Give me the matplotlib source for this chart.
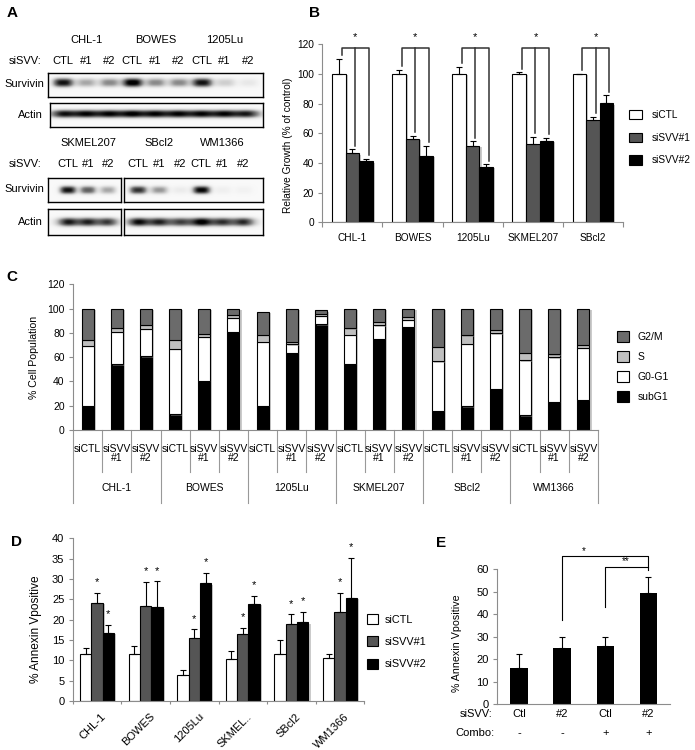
import numpy as np
import matplotlib
matplotlib.use('Agg')
import matplotlib.pyplot as plt
from matplotlib.patches import Patch
import matplotlib.patheffects as pe
from matplotlib.transforms import ScaledTranslation

plt.rcParams['font.family'] = ['Liberation Sans', 'DejaVu Sans']
plt.rcParams['axes.linewidth'] = 0.8

# ---------------- Data ----------------
# A: western blots (relative band intensity 0-1, one value per lane)
a_lanes = ['CTL', '#1', '#2']
a_lines_top = ['CHL-1', 'BOWES', '1205Lu']
a_lines_bot = ['SKMEL207', 'SBcl2', 'WM1366']
surv_top = [0.9, 0.4, 0.5, 1.0, 0.5, 0.5, 0.9, 0.25, 0.12]
actin_top = [0.85, 0.85, 0.85, 0.88, 0.85, 0.85, 0.85, 0.85, 0.82]
surv_bot_a = [0.9, 0.65, 0.4]
actin_bot_a = [0.85, 0.8, 0.75]
surv_bot_b = [0.8, 0.45, 0.1, 0.95, 0.08, 0.06]
actin_bot_b = [0.9, 0.8, 0.7, 0.95, 0.75, 0.8]

# B: relative growth
b_groups = ['CHL-1', 'BOWES', '1205Lu', 'SKMEL207', 'SBcl2']
b_ctl = [100, 100, 100, 100, 100]
b_ctl_err = [10, 3, 5, 1, 0]
b_s1 = [46.4, 56.3, 51.6, 52.5, 69]
b_s1_err = [2.7, 1.8, 3, 5, 2.2]
b_s2 = [41.2, 45, 37.4, 55, 80.2]
b_s2_err = [1.8, 6.3, 1.6, 1.8, 5.4]
b_series = ['siCTL', 'siSVV#1', 'siSVV#2']

# C: cell cycle (% population)
c_groups = ['CHL-1', 'BOWES', '1205Lu', 'SKMEL207', 'SBcl2', 'WM1366']
c_samples = ['siCTL', 'siSVV\n#1', 'siSVV\n#2']
c_subg1 = [20, 54, 60.8, 12.9, 40.5, 80.8, 20, 63.8, 87.1, 54.5, 75.3, 84.9, 15.6, 19.5, 33.7, 12, 23.3, 24.9]
c_g0g1 = [49.3, 26.8, 22.5, 54.2, 36.2, 11.8, 52.6, 6.9, 6.9, 24.1, 11, 6.1, 41.1, 51.7, 45.8, 45.3, 36.7, 42.8]
c_s = [4.9, 3.6, 3.5, 7.1, 2.5, 2.4, 6, 1.9, 1.9, 5, 3, 2.4, 11.8, 6.9, 3.2, 6.3, 2.2, 2.7]
c_g2m = [25.8, 15.6, 13.2, 25.8, 20.8, 5, 18.7, 27.4, 2.6, 16.4, 10.7, 6.6, 31.5, 21.9, 17.3, 36.4, 37.8, 29.6]
c_phases = ['G2/M', 'S', 'G0-G1', 'subG1']

# D: annexin V
d_groups = ['CHL-1', 'BOWES', '1205Lu', 'SKMEL..', 'SBcl2', 'WM1366']
d_ctl = [11.5, 11.5, 6.3, 10.3, 11.5, 10.5]
d_ctl_err = [1.5, 1.9, 1.4, 1.9, 3.4, 1.0]
d_s1 = [24.2, 23.4, 15.6, 16.5, 18.9, 21.8]
d_s1_err = [2.4, 5.8, 2.0, 1.5, 2.4, 4.8]
d_s2 = [16.8, 23.0, 28.9, 23.9, 19.3, 25.4]
d_s2_err = [1.9, 6.4, 2.5, 1.9, 2.7, 9.7]

# E: combination
e_sisvv = ['Ctl', '#2', 'Ctl', '#2']
e_combo = ['-', '-', '+', '+']
e_vals = [16.2, 25.0, 25.8, 49.6]
e_err = [5.9, 4.7, 4.2, 7.1]

# ---------------- Figure ----------------
W, H = 695, 750
fig = plt.figure(figsize=(W / 100, H / 100), dpi=100)
GREY = '#8c8c8c'
COL_S1 = '#555555'
shadow = [pe.SimplePatchShadow(offset=(1.6, -1.0), shadow_rgbFace='0.55', alpha=0.45), pe.Normal()]


def axpx(x0, y0, x1, y1):
    return fig.add_axes([x0 / W, 1 - y1 / H, (x1 - x0) / W, (y1 - y0) / H])


def ftext(x, y, s, **kw):
    fig.text(x / W, 1 - y / H, s, **kw)


def style_axes(ax, fs):
    for s in ['top', 'right']:
        ax.spines[s].set_visible(False)
    for s in ['left', 'bottom']:
        ax.spines[s].set_color(GREY)
    ax.tick_params(axis='y', direction='out', length=3, width=0.8, color=GREY, labelsize=fs, pad=3)


# ---------- Panel A ----------
def draw_blot(box, intens, xlim, sx, sy, p, yc=0.0):
    ax = axpx(*box)
    xs = np.linspace(xlim[0], xlim[1], 500)
    ys = np.linspace(0.5, -0.5, 80)
    X, Y = np.meshgrid(xs, ys)
    img = np.full_like(X, 0.05)
    for i, v in enumerate(intens):
        img += v * np.exp(-np.abs((X - i) / sx) ** p) * np.exp(-np.abs((Y - yc) / sy) ** 2.5)
    ax.imshow(np.clip(img, 0, 1), cmap='Greys', vmin=0, vmax=1, aspect='auto',
              extent=(xlim[0], xlim[1], -0.5, 0.5), interpolation='bilinear')
    ax.set_xlim(xlim)
    ax.set_ylim(-0.5, 0.5)
    ax.set_xticks([])
    ax.set_yticks([])
    for s in ax.spines.values():
        s.set_linewidth(1.0)
    return ax

ftext(12, 13, 'A', fontsize=11, fontweight='bold', ha='center', va='center')
xl_top = (-0.65, 8.66)
ax_s1 = draw_blot((48, 73, 263, 97), surv_top, xl_top, 0.45, 0.19, 3, 0.1)
draw_blot((50, 103, 263, 127), actin_top, (-0.56, 8.66), 0.6, 0.17, 2, 0.05)
for i in range(9):
    ax_s1.text(i, 1.5, a_lanes[i % 3], transform=ax_s1.get_xaxis_transform(), ha='center', va='center', fontsize=8)
for g, name in enumerate(a_lines_top):
    ax_s1.text(3 * g + 1, 2.375, name, transform=ax_s1.get_xaxis_transform(), ha='center', va='center', fontsize=8)
ftext(41, 61, 'siSVV:', ha='right', va='center', fontsize=8)
ftext(44, 84, 'Survivin', ha='right', va='center', fontsize=8)
ftext(43, 115, 'Actin', ha='right', va='center', fontsize=8)

xl_ba = (-1.0, 2.65)
xl_bb = (-0.667, 5.95)
ax_s2a = draw_blot((48, 178, 121, 202), surv_bot_a, xl_ba, 0.42, 0.17, 3)
ax_s2b = draw_blot((124, 178, 263, 202), surv_bot_b, xl_bb, 0.42, 0.17, 3)
draw_blot((48, 209, 121, 235), actin_bot_a, xl_ba, 0.55, 0.17, 2)
draw_blot((124, 209, 263, 235), actin_bot_b, xl_bb, 0.55, 0.17, 2)
for i in range(3):
    ax_s2a.text(i, 1.583, a_lanes[i], transform=ax_s2a.get_xaxis_transform(), ha='center', va='center', fontsize=8)
for i in range(6):
    ax_s2b.text(i, 1.583, a_lanes[i % 3], transform=ax_s2b.get_xaxis_transform(), ha='center', va='center', fontsize=8)
ax_s2a.text(1, 2.458, a_lines_bot[0], transform=ax_s2a.get_xaxis_transform(), ha='center', va='center', fontsize=8)
ax_s2b.text(1, 2.458, a_lines_bot[1], transform=ax_s2b.get_xaxis_transform(), ha='center', va='center', fontsize=8)
ax_s2b.text(4, 2.458, a_lines_bot[2], transform=ax_s2b.get_xaxis_transform(), ha='center', va='center', fontsize=8)
ftext(41, 164, 'siSVV:', ha='right', va='center', fontsize=8)
ftext(44, 189, 'Survivin', ha='right', va='center', fontsize=8)
ftext(43, 222, 'Actin', ha='right', va='center', fontsize=8)

# ---------- Panel B ----------
ftext(314, 13, 'B', fontsize=11, fontweight='bold', ha='center', va='center')
axB = axpx(322.3, 44.3, 623, 222.3)
style_axes(axB, 7.3)
xb = np.arange(len(b_groups))
bw = 0.225
colors = ['white', COL_S1, 'black']
vals = [b_ctl, b_s1, b_s2]
errs = [b_ctl_err, b_s1_err, b_s2_err]
for k in range(3):
    xk = xb + (k - 1) * bw
    bars = axB.bar(xk, vals[k], width=bw, color=colors[k], edgecolor='black', linewidth=0.8, zorder=2)
    for b in bars:
        b.set_path_effects(shadow)
    axB.errorbar(xk, vals[k], yerr=[np.zeros(len(xk)), errs[k]], fmt='none', ecolor='black',
                 elinewidth=0.8, capsize=2.5, capthick=0.8, zorder=3)
bracket_y = 117.5
for i in range(len(b_groups)):
    lx = [xb[i] + (k - 1) * bw + 0.2 * bw for k in range(3)]
    bot = [vals[k][i] + errs[k][i] + 2.5 for k in range(3)]
    axB.plot([lx[0], lx[0], lx[2], lx[2]], [bot[0], bracket_y, bracket_y, bot[2]], color='#333333', lw=1.1, zorder=4)
    axB.plot([lx[1], lx[1]], [bot[1], bracket_y], color='#333333', lw=1.1, zorder=4)
    axB.text(lx[1], 123, '*', ha='center', va='baseline', fontsize=8)
axB.set_xlim(-0.5, len(b_groups) - 0.5)
axB.set_ylim(0, 120)
axB.set_yticks(np.arange(0, 121, 20))
axB.set_xticks(xb, b_groups)
axB.set_xticks(np.arange(-0.5, len(b_groups), 1), minor=True)
axB.tick_params(axis='x', which='major', length=0, labelsize=7.3, pad=8)
axB.tick_params(axis='x', which='minor', length=3.5, width=0.8, color=GREY, direction='out')
axB.set_ylabel('Relative Growth (% of control)', fontsize=7.3)
axB.yaxis.set_label_coords(-0.097, 0.434)
axB.legend([Patch(facecolor=c, edgecolor='black', linewidth=0.8) for c in colors], b_series,
           loc='upper left', bbox_to_anchor=(629.3 / W, 1 - 110 / H), bbox_transform=fig.transFigure,
           frameon=False, borderpad=0, borderaxespad=0, fontsize=7.3, handlelength=1.23,
           handleheight=1.06, handletextpad=1.0, labelspacing=1.22)

# ---------- Panel C ----------
ftext(12, 277, 'C', fontsize=11, fontweight='bold', ha='center', va='center')
axC = axpx(73, 284.3, 598, 430)
style_axes(axC, 7.5)
xc = np.arange(len(c_subg1))
cw = 0.41
layers = [(c_subg1, 'black'), (c_g0g1, 'white'), (c_s, '#bfbfbf'), (c_g2m, '#6b6b6b')]
bottom = np.zeros(len(xc))
for data, col in layers:
    bars = axC.bar(xc, data, width=cw, bottom=bottom, color=col, edgecolor='black', linewidth=0.8, zorder=2)
    for b in bars:
        b.set_path_effects(shadow)
    bottom = bottom + np.array(data)
axC.set_xlim(-0.5, len(xc) - 0.5)
axC.set_ylim(0, 120)
axC.set_yticks(np.arange(0, 121, 20))
axC.set_xticks([])
axC.set_ylabel('% Cell Population', fontsize=7.6)
axC.yaxis.set_label_coords(-0.065, 0.5)
trC = axC.get_xaxis_transform()
axh_c = 145.7
for k in range(len(xc) + 1):
    depth = 73 if k % 3 == 0 else 42
    axC.plot([k - 0.5, k - 0.5], [0, -depth / axh_c], transform=trC, clip_on=False, color='0.6', lw=0.8)
for j in range(len(xc)):
    axC.text(j, -13.5 / axh_c, c_samples[j % 3], transform=trC, ha='center', va='top', fontsize=7.5,
             linespacing=0.95)
for g, name in enumerate(c_groups):
    axC.text(3 * g + 1, -58 / axh_c, name, transform=trC, ha='center', va='center', fontsize=7.5)
c_colors = ['#6b6b6b', '#bfbfbf', 'white', 'black']
axC.legend([Patch(facecolor=c, edgecolor='black', linewidth=0.8) for c in c_colors], c_phases,
           loc='upper left', bbox_to_anchor=(616.7 / W, 1 - 331 / H), bbox_transform=fig.transFigure,
           frameon=False, borderpad=0, borderaxespad=0, fontsize=7.5, handlelength=1.18,
           handleheight=1.18, handletextpad=0.85, labelspacing=0.9)

# ---------- Panel D ----------
ftext(17, 542, 'D', fontsize=11, fontweight='bold', ha='center', va='center')
axD = axpx(72.7, 538.3, 364.3, 701)
style_axes(axD, 8)
xd = np.arange(len(d_groups))
dw = 0.233
dvals = [d_ctl, d_s1, d_s2]
derrs = [d_ctl_err, d_s1_err, d_s2_err]
for k in range(3):
    xk = xd + (k - 1) * dw
    bars = axD.bar(xk, dvals[k], width=dw, color=colors[k], edgecolor='black', linewidth=0.8, zorder=2)
    for b in bars:
        b.set_path_effects(shadow)
    axD.errorbar(xk, dvals[k], yerr=[np.zeros(len(xk)), derrs[k]], fmt='none', ecolor='black',
                 elinewidth=0.8, capsize=2.5, capthick=0.8, zorder=3)
    if k > 0:
        for i in range(len(xd)):
            axD.text(xk[i], dvals[k][i] + derrs[k][i] + 1.9, '*', ha='center', va='baseline', fontsize=8)
axD.set_xlim(-0.5, len(d_groups) - 0.5)
axD.set_ylim(0, 40)
axD.set_yticks(np.arange(0, 41, 5))
axD.set_xticks(xd, d_groups)
axD.set_xticks(np.arange(-0.5, len(d_groups), 1), minor=True)
axD.tick_params(axis='x', which='major', length=0, labelsize=8, pad=7.5)
axD.tick_params(axis='x', which='minor', length=2.5, width=0.8, color=GREY, direction='out')
for lbl in axD.get_xticklabels():
    lbl.set_rotation(45)
    lbl.set_ha('right')
    lbl.set_va('top')
    lbl.set_rotation_mode('anchor')
    lbl.set_transform(lbl.get_transform() + ScaledTranslation(0.04, 0, fig.dpi_scale_trans))
axD.set_ylabel('% Annexin Vpositive', fontsize=8.6)
axD.yaxis.set_label_coords(-0.105, 0.44)
axD.legend([Patch(facecolor=c, edgecolor='black', linewidth=0.8) for c in colors], b_series,
           loc='upper left', bbox_to_anchor=(366.7 / W, 1 - 614 / H), bbox_transform=fig.transFigure,
           frameon=False, borderpad=0, borderaxespad=0, fontsize=7.8, handlelength=1.02,
           handleheight=1.02, handletextpad=0.68, labelspacing=1.09)

# ---------- Panel E ----------
ftext(441, 543, 'E', fontsize=11, fontweight='bold', ha='center', va='center')
axE = axpx(497.3, 569.3, 670, 704)
style_axes(axE, 8)
xe = np.arange(len(e_vals))
axE.bar(xe, e_vals, width=0.4, color='black', zorder=2)
axE.errorbar(xe, e_vals, yerr=[np.zeros(len(xe)), e_err], fmt='none', ecolor='black',
             elinewidth=0.8, capsize=2, capthick=0.8, zorder=3)
axE.set_xlim(-0.5, len(xe) - 0.5)
axE.set_ylim(0, 60)
axE.set_yticks(np.arange(0, 61, 10))
axE.set_xticks(xe, e_sisvv)
axE.tick_params(axis='x', length=0, labelsize=8, pad=3.5)
axh_e = 134.7
axE.text(-0.027, -4.9 / axh_e, 'siSVV:', transform=axE.transAxes, ha='right', va='top', fontsize=8)
trE = axE.get_xaxis_transform()
for i, c in enumerate(e_combo):
    axE.text(xe[i], -28.7 / axh_e, c, transform=trE, ha='center', va='center', fontsize=8)
axE.text(-0.019, -28.7 / axh_e, 'Combo:', transform=axE.transAxes, ha='right', va='center', fontsize=8)
top_e = e_vals[3] + e_err[3] + 3
axE.plot([xe[1], xe[1], xe[3], xe[3]], [37.4, 65.9, 65.9, top_e], color='black', lw=0.8, clip_on=False)
axE.plot([xe[2], xe[2], xe[3]], [43.3, 60.9, 60.9], color='black', lw=0.8, clip_on=False)
axE.text(1.5, 67, '*', ha='center', va='baseline', fontsize=7)
axE.text(2.47, 62.3, '**', ha='center', va='baseline', fontsize=7)
axE.set_ylabel('% Annexin Vpositive', fontsize=7.7)
axE.yaxis.set_label_coords(-0.204, 0.453)

fig.savefig('out.png', dpi=100, facecolor='white')
